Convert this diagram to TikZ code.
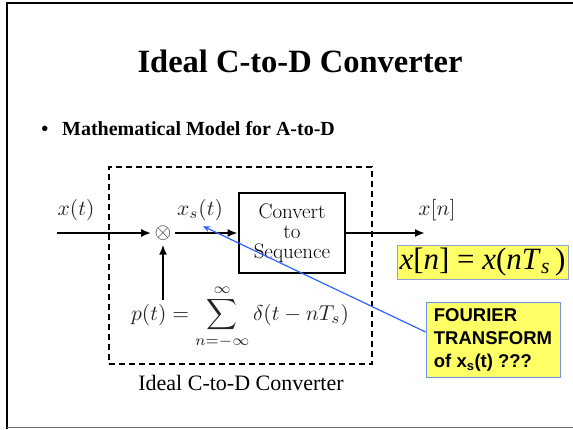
\documentclass[tikz,border=0pt]{standalone}
\usepackage{amsmath}
\usepackage{fontspec}
\usepackage{xcolor}
\usepackage{tikz}
\usetikzlibrary{arrows.meta, positioning}

\newfontfamily\tnr{Liberation Serif}
\newfontfamily\arialf{Liberation Sans}
\definecolor{hlyellow}{RGB}{255,255,102}
\definecolor{hlborder}{RGB}{150,160,210}
\definecolor{noteborder}{RGB}{110,150,240}
\definecolor{callblue}{RGB}{45,100,255}

\begin{document}
\begin{tikzpicture}[
    x=1pt, y=-1pt,
    mathlbl/.style={inner sep=0pt, text=black!85, scale=2.15, transform shape},
    sig/.style={-{Latex[length=10pt,width=8pt]}, line width=2.4pt},
    convbox/.style={draw, line width=2.6pt, minimum width=106pt, minimum height=80pt, align=center,
        inner sep=0pt, font=\fontsize{21}{20}\selectfont},
    sysbox/.style={draw, line width=2.4pt, dash pattern=on 6pt off 4pt, minimum width=263pt, minimum height=197pt},
    hl/.style={draw=hlborder, fill=hlyellow, line width=0.8pt, minimum width=171pt, minimum height=34pt, inner sep=0pt},
    note/.style={draw=noteborder, fill=hlyellow, line width=0.8pt, minimum width=134pt, minimum height=74pt,
        align=left, inner sep=6pt, font=\arialf\bfseries\fontsize{18.5}{23}\selectfont},
    callout/.style={-{Stealth[length=7pt,width=6pt]}, callblue, line width=1.2pt},
]
    \useasboundingbox (0,0) rectangle (573,429);
    % slide frame
    \draw[line width=2pt] (7,429) -- (7,3) -- (573,3);
    \draw[black!60, line width=1pt] (7,427) -- (573,427);

    \node[anchor=base, font=\tnr\bfseries\fontsize{32.5}{36}\selectfont] (title) at (300,72) {Ideal C-to-D Converter};
    \node[anchor=base, inner sep=0pt, font=\tnr\bfseries\fontsize{20}{24}\selectfont] (dot) at (45,135) {\textbullet};
    \node[anchor=base west, inner sep=0pt, font=\tnr\bfseries\fontsize{20}{24}\selectfont] (model) at (62,135) {Mathematical Model for A-to-D};

    \node[sysbox] (sys) at (240.5,265.5) {};
    \node[anchor=base, inner sep=0pt, font=\tnr\fontsize{22}{24}\selectfont] (syslbl) at (241,390) {Ideal C-to-D Converter};

    \coordinate (in) at (57,233);
    \coordinate (out) at (425,233);
    \coordinate (pup) at (163,300);
    \node[mathlbl] (mult) at (163,233) {$\otimes$};
    \node[convbox] (conv) at (292,233) {Convert\\to\\Sequence};

    \node[mathlbl] (xt) at (76,210) {$x(t)$};
    \node[mathlbl] (xs) at (200,210) {$x_s(t)$};
    \node[mathlbl] (xn) at (437,210) {$x[n]$};
    \node[mathlbl] (pt) at (240,317) {$\displaystyle p(t)=\sum_{n=-\infty}^{\infty}\delta(t-nT_s)$};

    \draw[sig] (in) -- ([xshift=-3pt]mult.west);
    \draw[sig] ([xshift=3pt]mult.east) -- (conv.west);
    \draw[sig] (conv) -- (out);
    \draw[sig] (pup) -- ([yshift=-4pt]mult.south);

    \node[hl, font=\tnr\fontsize{31}{31}\selectfont] (eqn) at (482.5,262)
        {\textit{x}[\textit{n}] = \textit{x}(\textit{nT}\textsubscript{\textit{s}}\,)};
    \node[note] (ft) at (493,340) {FOURIER\\TRANSFORM\\of x\textsubscript{s}(t) ???};

    \draw[callout] ([yshift=8pt]ft.west) -- ([xshift=3pt,yshift=-5pt]xs.south);
\end{tikzpicture}
\end{document}
